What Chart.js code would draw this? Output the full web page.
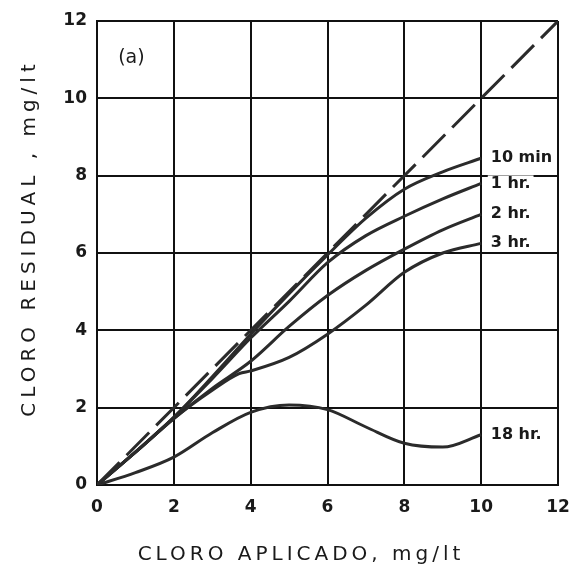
<!DOCTYPE html>
<html>
<head>
<meta charset="utf-8">
<script src="https://cdn.jsdelivr.net/npm/chart.js@4/dist/chart.umd.min.js"></script>
<style>
  html, body { margin: 0; padding: 0; background: #fff; }
  #wrap { width: 574px; height: 569px; }
</style>
</head>
<body>
<div id="wrap"><canvas id="cloroChart"></canvas></div>
<script>
// dosis aplicada (mg/lt)
const xApplied = [0, 1, 2, 3, 4, 5, 6, 7, 8, 9, 10];
const x3hr = [0, 1, 2, 3, 3.7, 4, 5, 6, 7, 8, 9, 10];
const xTicks = [0, 2, 4, 6, 8, 10, 12];
const yTicks = [0, 2, 4, 6, 8, 10, 12];

// cloro residual (mg/lt) por tiempo de contacto
const res10min = [0, 0.85, 1.75, 2.8, 3.9, 4.95, 5.95, 6.9, 7.65, 8.1, 8.45];
const res1hr = [0, 0.85, 1.75, 2.75, 3.8, 4.75, 5.75, 6.45, 6.95, 7.4, 7.8];
const res2hr = [0, 0.85, 1.72, 2.5, 3.2, 4.1, 4.9, 5.55, 6.1, 6.6, 7.0];
const res3hr = [0, 0.85, 1.72, 2.45, 2.88, 2.95, 3.3, 3.9, 4.65, 5.5, 6.0, 6.25];
const res18hr = [0, 0.32, 0.72, 1.35, 1.88, 2.07, 1.95, 1.5, 1.08, 0.98, 1.3];

const seriesLabels = ['10 min', '1 hr.', '2 hr.', '3 hr.', '18 hr.'];

// linea de demanda cero (residual = aplicado)
const refX = [0, 12];
const refY = [0, 12];

function pts(xs, ys) {
  return xs.map((x, i) => ({ x: x, y: ys[i] }));
}

var lineColor = '#2b2b2b';

function curve(label, xs, ys) {
  return {
    label: label,
    data: pts(xs, ys),
    borderColor: lineColor,
    borderWidth: 3,
    pointRadius: 0,
    cubicInterpolationMode: 'monotone',
    fill: false
  };
}

// etiquetas al final de cada curva, titulos de ejes y "(a)"
const annotPlugin = {
  id: 'annot',
  afterDatasetsDraw(chart) {
    const ctx = chart.ctx;
    const xs = chart.scales.x, ys = chart.scales.y;
    ctx.save();
    ctx.font = 'bold 16px "DejaVu Sans"';
    ctx.textBaseline = 'middle';
    ctx.textAlign = 'left';
    chart.data.datasets.forEach(function (ds) {
      if (!seriesLabels.includes(ds.label)) return;
      const last = ds.data[ds.data.length - 1];
      const px = xs.getPixelForValue(last.x + 0.25);
      const py = ys.getPixelForValue(last.y);
      const w = ctx.measureText(ds.label).width;
      ctx.fillStyle = '#fff';
      ctx.fillRect(px - 3, py - 8, w + 6, 16);
      ctx.fillStyle = '#1a1a1a';
      ctx.fillText(ds.label, px, py);
    });

    ctx.font = '19px "DejaVu Sans"';
    ctx.fillText('(a)', xs.getPixelForValue(0.55), ys.getPixelForValue(11.05));

    // titulos
    ctx.letterSpacing = '4px';
    ctx.font = '20px "DejaVu Sans"';
    ctx.textAlign = 'center';
    ctx.fillText('CLORO APLICADO, mg/lt', 301, 555);
    ctx.letterSpacing = '5px';
    ctx.translate(30, 238);
    ctx.rotate(-Math.PI / 2);
    ctx.fillText('CLORO RESIDUAL , mg/lt', 0, 0);
    ctx.restore();
  }
};

document.addEventListener('DOMContentLoaded', function () {
  var ctx = document.getElementById('cloroChart').getContext('2d');

  var dashed = {
    label: 'ref',
    data: pts(refX, refY),
    borderColor: lineColor,
    borderWidth: 3,
    borderDash: [32, 10],
    pointRadius: 0,
    fill: false
  };

  var chart = new Chart(ctx, {
    type: 'line',
    data: {
      datasets: [
        dashed,
        curve(seriesLabels[0], xApplied, res10min),
        curve(seriesLabels[1], xApplied, res1hr),
        curve(seriesLabels[2], xApplied, res2hr),
        curve(seriesLabels[3], x3hr, res3hr),
        curve(seriesLabels[4], xApplied, res18hr)
      ]
    },
    options: {
      responsive: true,
      maintainAspectRatio: false,
      animation: false,
      layout: { padding: { left: 0, right: 0, top: 21, bottom: 0 } },
      plugins: {
        legend: { display: false },
        tooltip: { enabled: false }
      },
      scales: {
        x: {
          type: 'linear',
          min: 0,
          max: 12,
          afterFit: function (s) { s.height = 84; s.paddingRight = 16; },
          afterBuildTicks: function (s) { s.ticks = xTicks.map(v => ({ value: v })); },
          grid: { color: '#111', lineWidth: 2, drawTicks: false },
          border: { color: '#111', width: 2 },
          ticks: {
            padding: 12,
            color: '#1a1a1a',
            font: { family: '"DejaVu Sans"', size: 17, weight: 'bold' }
          }
        },
        y: {
          min: 0,
          max: 12,
          afterFit: function (s) { s.width = 97; },
          afterBuildTicks: function (s) { s.ticks = yTicks.map(v => ({ value: v })); },
          grid: { color: '#111', lineWidth: 2, drawTicks: false },
          border: { color: '#111', width: 2 },
          ticks: {
            padding: 10,
            color: '#1a1a1a',
            font: { family: '"DejaVu Sans"', size: 17, weight: 'bold' }
          }
        }
      }
    },
    plugins: [annotPlugin]
  });
});
</script>
</body>
</html>
